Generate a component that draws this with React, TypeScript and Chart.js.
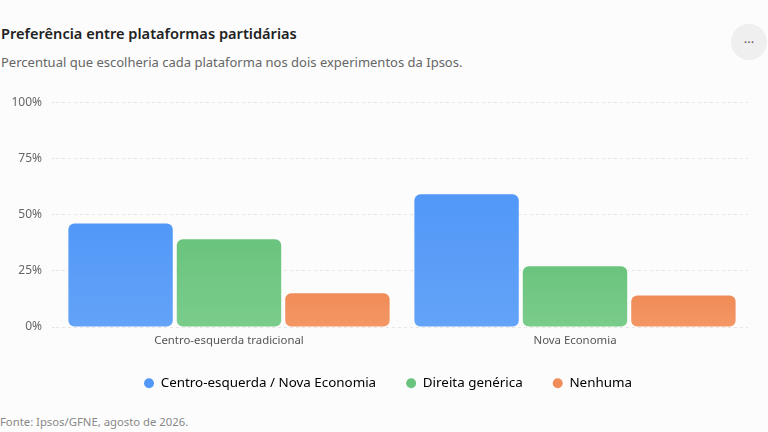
import { useEffect, useRef } from 'react'
import { Chart, registerables } from 'chart.js'

Chart.register(...registerables)

// data
const categories = ['Centro-esquerda tradicional', 'Nova Economia']
const seriesLabels = ['Centro-esquerda / Nova Economia', 'Direita genérica', 'Nenhuma']
const centroEsquerda = [46, 59]
const direitaGenerica = [39, 27]
const nenhuma = [15, 14]
const yTicks = [0, 25, 50, 75, 100]

const FONT = '"Noto Sans", "Open Sans", sans-serif'

// top / bottom shade of each bar
const shades = [
  ['rgb(82, 152, 248)', 'rgb(99, 163, 248)'],
  ['rgb(106, 196, 125)', 'rgb(122, 204, 139)'],
  ['rgb(240, 140, 88)', 'rgb(243, 151, 101)'],
]

function barFill(idx: number) {
  return (ctx: any) => {
    const chart = ctx.chart
    const y = chart.scales?.y
    if (!chart.chartArea || !y || ctx.type !== 'data') return shades[idx][0]
    const top = y.getPixelForValue(ctx.raw)
    const bottom = y.getPixelForValue(0)
    if (!isFinite(top) || !isFinite(bottom) || top === bottom) return shades[idx][0]
    const g = chart.ctx.createLinearGradient(0, top, 0, bottom)
    g.addColorStop(0, shades[idx][0])
    g.addColorStop(1, shades[idx][1])
    return g
  }
}

export default function App() {
  const chartRef = useRef<HTMLCanvasElement>(null)
  const chartInstance = useRef<Chart | null>(null)

  useEffect(() => {
    document.body.style.margin = '0'
    if (!chartRef.current) return
    if (chartInstance.current) chartInstance.current.destroy()

    const values = [centroEsquerda, direitaGenerica, nenhuma]

    chartInstance.current = new Chart(chartRef.current, {
      type: 'bar',
      data: {
        labels: categories,
        datasets: values.map((data, i) => ({
          label: seriesLabels[i],
          data,
          backgroundColor: barFill(i),
          borderWidth: 0,
          borderRadius: 6,
          borderSkipped: false,
          categoryPercentage: 0.94,
          barPercentage: 0.963,
        })),
      },
      options: {
        animation: false,
        responsive: false,
        maintainAspectRatio: false,
        layout: { padding: { left: 8, right: 0, top: 8, bottom: 0 } },
        plugins: {
          tooltip: { enabled: false },
          legend: {
            position: 'bottom',
            labels: {
              usePointStyle: true,
              pointStyle: 'circle',
              boxWidth: 10,
              boxHeight: 7,
              padding: 30,
              color: '#333',
              font: { family: FONT, size: 13.4 },
              generateLabels: (chart: any) =>
                chart.data.datasets.map((ds: any, i: number) => ({
                  text: ds.label,
                  fillStyle: shades[i][0],
                  strokeStyle: shades[i][0],
                  lineWidth: 0,
                  pointStyle: 'circle',
                  hidden: false,
                  datasetIndex: i,
                })),
            },
          },
        },
        scales: {
          x: {
            grid: { display: false, drawTicks: false },
            border: { display: false },
            ticks: { color: '#555', font: { family: FONT, size: 11.4 }, padding: 7 },
            afterFit: (axis: any) => {
              axis.height = 19.6
            },
          },
          y: {
            min: yTicks[0],
            max: yTicks[yTicks.length - 1],
            afterBuildTicks: (axis: any) => {
              axis.ticks = yTicks.map(v => ({ value: v }))
            },
            afterFit: (axis: any) => {
              axis.width = 48
            },
            grid: { color: '#e6e6e6', tickLength: 4, tickBorderDash: [3, 3] },
            border: { display: false, dash: [3, 3] },
            ticks: {
              color: '#666',
              padding: 10,
              font: { family: FONT, size: 12 },
              callback: (v: any) => v + '%',
            },
          },
          // empty right gutter, keeps the legend centred on the page
          gutter: {
            type: 'linear',
            position: 'right',
            grid: { display: false, drawTicks: false },
            border: { display: false },
            ticks: { display: false },
            afterFit: (axis: any) => {
              axis.width = 20
            },
          },
        },
      },
    })

    return () => {
      if (chartInstance.current) {
        chartInstance.current.destroy()
        chartInstance.current = null
      }
    }
  }, [])

  return (
    <div style={{ position: 'relative', width: 768, height: 432, background: '#fcfcfc', fontFamily: FONT, overflow: 'hidden' }}>
      <div style={{ position: 'absolute', left: 1, top: 23, fontSize: 14.6, fontWeight: 600, color: '#222' }}>
        Preferência entre plataformas partidárias
      </div>
      <div style={{ position: 'absolute', left: 1, top: 53, fontSize: 13, color: '#666' }}>
        Percentual que escolheria cada plataforma nos dois experimentos da Ipsos.
      </div>
      <div
        style={{
          position: 'absolute', left: 731, top: 24, width: 36, height: 36, borderRadius: '50%',
          background: '#efefef', display: 'flex', alignItems: 'center', justifyContent: 'center',
          color: '#555', fontSize: 13, fontWeight: 400,
        }}
      >
        ···
      </div>
      <canvas ref={chartRef} width={768} height={315} style={{ position: 'absolute', left: 0, top: 85, width: 768, height: 315 }} />
      <div style={{ position: 'absolute', left: 0, top: 414, fontSize: 11.3, color: '#888' }}>
        Fonte: Ipsos/GFNE, agosto de 2026.
      </div>
    </div>
  )
}
